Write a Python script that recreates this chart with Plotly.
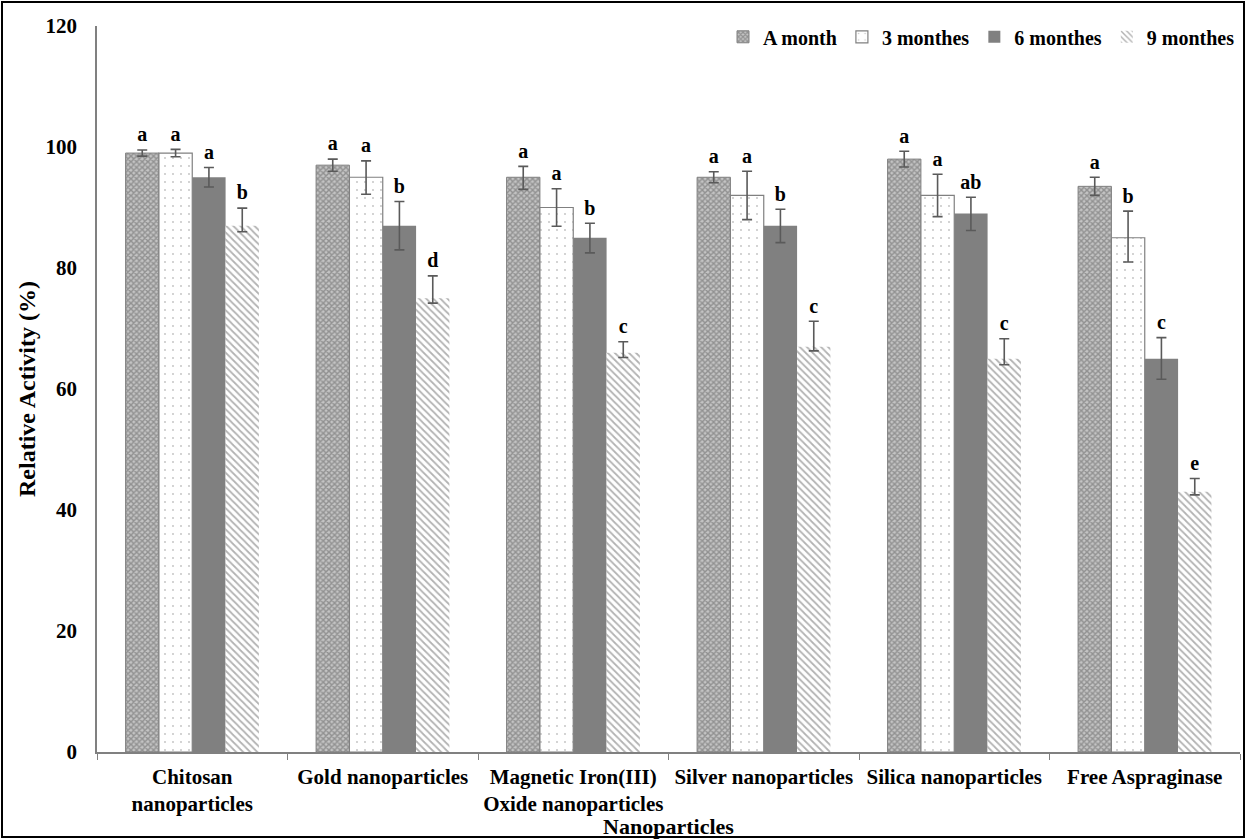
import plotly.graph_objects as go

# Storage stability of immobilised L-asparaginase
categories = [
    "Chitosan<br>nanoparticles",
    "Gold nanoparticles",
    "Magnetic Iron(III)<br>Oxide nanoparticles",
    "Silver nanoparticles",
    "Silica nanoparticles",
    "Free Aspraginase",
]
series_names = ["A month", "3 monthes", "6 monthes", "9 monthes"]

one_month = [99, 97, 95, 95, 98, 93.5]
three_months = [99, 95, 90, 92, 92, 85]
six_months = [95, 87, 85, 87, 89, 65]
nine_months = [87, 75, 66, 67, 65, 43]

one_month_err_up = [0.5, 1.0, 1.8, 0.9, 1.3, 1.5]
one_month_err_down = [0.5, 1.0, 2.0, 0.9, 1.3, 1.5]
three_months_err_up = [0.6, 2.7, 3.1, 4.0, 3.5, 4.4]
three_months_err_down = [0.6, 2.8, 3.1, 4.0, 3.5, 4.0]
six_months_err_up = [1.6, 4.0, 2.4, 2.7, 2.7, 3.5]
six_months_err_down = [1.6, 4.0, 2.5, 2.8, 2.8, 3.4]
nine_months_err_up = [2.9, 3.7, 1.8, 4.2, 3.3, 2.2]
nine_months_err_down = [1.0, 0.8, 0.8, 0.7, 1.0, 0.5]

one_month_letters = ["a", "a", "a", "a", "a", "a"]
three_months_letters = ["a", "a", "a", "a", "a", "b"]
six_months_letters = ["a", "b", "b", "b", "ab", "c"]
nine_months_letters = ["b", "d", "c", "c", "c", "e"]

values = [one_month, three_months, six_months, nine_months]
errs_up = [one_month_err_up, three_months_err_up, six_months_err_up, nine_months_err_up]
errs_down = [one_month_err_down, three_months_err_down, six_months_err_down, nine_months_err_down]
letters = [one_month_letters, three_months_letters, six_months_letters, nine_months_letters]

GREY = "#808080"
FONT = "Times New Roman, Liberation Serif, serif"


def txt(size):
    return dict(family=FONT, size=size, color="#000000", weight="bold")


patterns = [
    dict(shape="x", fgcolor="#5e5e5e", bgcolor="#c4c4c4", size=4, solidity=0.6),
    dict(shape=".", fgcolor="#808080", bgcolor="#ffffff", size=8, solidity=0.04),
    dict(shape="", fgcolor=GREY, bgcolor=GREY),
    dict(shape="\\", fgcolor="#666666", bgcolor="#ffffff", size=5, solidity=0.35),
]
colors = ["#ffffff", "#ffffff", GREY, "#ffffff"]
line_widths = [1, 1.2, 0, 0]

fig = go.Figure()
for k in range(4):
    fig.add_trace(go.Bar(
        name=series_names[k],
        x=categories,
        y=values[k],
        offsetgroup=str(k),
        marker=dict(color=colors[k], pattern=patterns[k],
                    line=dict(color=GREY, width=line_widths[k])),
        error_y=dict(type="data", symmetric=False, array=errs_up[k],
                     arrayminus=errs_down[k], color="#5a5a5a",
                     thickness=1.6, width=5),
    ))

# significance letters sit just above each whisker
for k in range(4):
    tops = [v + e + 0.6 for v, e in zip(values[k], errs_up[k])]
    fig.add_trace(go.Scatter(
        x=categories, y=tops, mode="text", text=letters[k],
        textposition="top center", offsetgroup=str(k),
        textfont=txt(20), showlegend=False, hoverinfo="skip", cliponaxis=False,
    ))

W, H = 1246, 839
ML, MR, MT, MB = 97, 6, 26, 87
pw, ph = W - ML - MR, H - MT - MB

fig.update_layout(
    width=W, height=H,
    margin=dict(l=ML, r=MR, t=MT, b=MB, autoexpand=False),
    barmode="group", bargap=0.3, bargroupgap=0,
    scattermode="group", scattergap=0.3,
    plot_bgcolor="#ffffff", paper_bgcolor="#ffffff",
    font=txt(20),
    legend=dict(orientation="h", x=1.0, xanchor="right", y=1.012, yanchor="top",
                font=txt(20), bgcolor="rgba(0,0,0,0)", itemwidth=30,
                traceorder="normal", tracegroupgap=0),
    showlegend=True,
    shapes=[dict(type="rect", xref="paper", yref="paper",
                 x0=(2 - ML) / pw, x1=(W - 2 - ML) / pw,
                 y0=-(H - 2 - MT - ph) / ph, y1=1 + (MT - 2) / ph,
                 line=dict(color="#000000", width=2), layer="above")],
)
fig.update_xaxes(
    type="category", showline=True, linecolor=GREY, linewidth=1.5,
    ticks="outside", tickson="boundaries", ticklen=6, tickcolor=GREY,
    showgrid=False, tickfont=txt(21), ticklabelstandoff=5, tickangle=0,
    automargin=False,
    title=dict(text="Nanoparticles", standoff=13, font=txt(22)),
)
fig.update_yaxes(
    range=[0, 120], dtick=20, showline=True, linecolor=GREY, linewidth=1.5,
    ticks="", showgrid=False, zeroline=False, ticklabelstandoff=14,
    tickfont=txt(21), automargin=False,
    title=dict(text="Relative Activity (%)", standoff=3, font=txt(24)),
)

fig.write_html("out.html")
